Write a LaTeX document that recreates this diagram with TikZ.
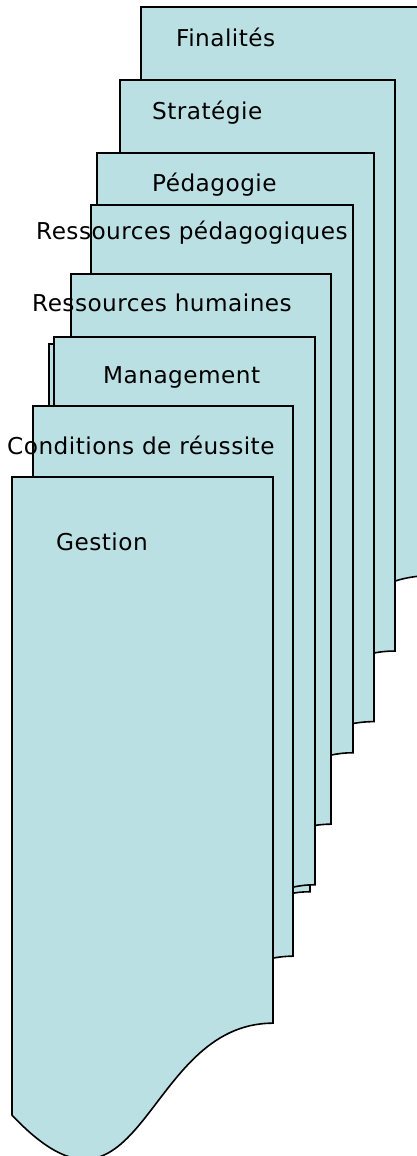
\documentclass[tikz,border=0pt]{standalone}
\usepackage{fontspec}
\setmainfont{DejaVu Sans}[LetterSpace=2]
\definecolor{docfill}{RGB}{187,224,227}
\tikzset{
  docstyle/.style={draw=black, fill=docfill, line width=1.6pt, line join=miter},
  doclabel/.style={anchor=base west, inner sep=0pt, font=\fontsize{23.2}{27}\selectfont}
}
\newcommand\docshape[4]{%
  \draw[docstyle] (#1,#2) -- ({#1+#3},#2) -- ({#1+#3},{#2+0.802*#4})
    .. controls ({#1+0.5*#3},{#2+0.802*#4}) and ({#1+0.5*#3},{#2+1.14*#4})
    .. (#1,{#2+0.937*#4}) -- cycle;}
\begin{document}
\begin{tikzpicture}[x=1pt,y=-1pt]
\useasboundingbox (0,0) rectangle (417,1156);
\clip (0,0) rectangle (417,1156);
\docshape{141}{7}{290}{709}
\node[doclabel] (fin) at (176,47) {Finalités};
\docshape{120}{80}{275}{712}
\node[doclabel] (strat) at (152,119) {Stratégie};
\docshape{97}{153}{277}{709}
\node[doclabel] (peda) at (152,191) {Pédagogie};
\docshape{91}{205}{262}{683}
\node[doclabel] (rpeda) at (36,239) {Ressources pédagogiques};
\docshape{71}{274}{260}{686}
\node[doclabel] (rhum) at (32,311) {Ressources humaines};
\docshape{49}{344}{261}{683}
\docshape{54}{337}{261}{683}
\node[doclabel] (mgmt) at (103,383) {Management};
\docshape{33}{406}{260}{686}
\node[doclabel] (cond) at (7,454) {Conditions de réussite};
\docshape{12}{477}{261}{681}
\node[doclabel] (gest) at (56,550) {Gestion};
\end{tikzpicture}
\end{document}
